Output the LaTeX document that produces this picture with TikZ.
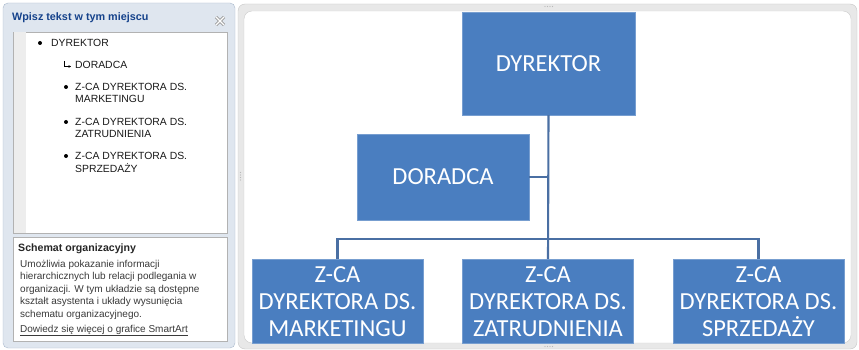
\documentclass[tikz,border=0pt]{standalone}
\usepackage{fontspec}
\usepackage{xcolor}
\setmainfont{Liberation Sans}
\newfontfamily\boxfont{Carlito}
\definecolor{boxblue}{HTML}{4A7EC0}
\definecolor{lineblue}{HTML}{4A6FA3}
\definecolor{panebg}{HTML}{DFE6EF}
\definecolor{paneedge}{HTML}{A9B8CC}
\definecolor{titleblue}{HTML}{15428B}
\definecolor{textgray}{HTML}{3A3A3A}
\usetikzlibrary{calc,arrows.meta}

\begin{document}
\begin{tikzpicture}[x=1pt,y=-1pt,
		orgbox/.style={draw=boxblue!75!white,fill=boxblue,text=white,inner sep=0pt,align=center,
			font=\boxfont\fontsize{24.5}{27}\selectfont},
		subbox/.style={orgbox,minimum width=171,minimum height=84,anchor=north},
		conn/.style={draw=lineblue,line width=2.1},
		entry/.style={anchor=base west,inner sep=0pt,text=black!90,font=\fontsize{10.4}{12}\selectfont},
		info/.style={anchor=base west,inner sep=0pt,text=textgray,font=\fontsize{10}{12}\selectfont},
		grip/.style={fill=gray!55}]
			\useasboundingbox (0,0) rectangle (859,350);
			% lewy panel tekstowy
			\draw[paneedge,fill=panebg,rounded corners=5] (3,3) rectangle (235,348);
			\node[anchor=base west,inner sep=0pt,text=titleblue,font=\bfseries\fontsize{10.8}{12}\selectfont] (title) at (12,21) {Wpisz tekst w tym miejscu};
			\draw[gray!80,line width=3] (216,17) -- (224,25) (216,25) -- (224,17);
			\draw[white,line width=1.1] (216,17) -- (224,25) (216,25) -- (224,17);
			\draw[gray!60,fill=white] (13,32) rectangle (227,233);
			\fill[black!7] (13.5,32.5) rectangle (26,232.5);
			\fill (40,43) circle (2);
			\node[entry] (e1) at (51,47) {DYREKTOR};
			\draw[line width=0.6,-{Stealth[length=2.5pt,width=2.5pt]}] (64,61) |- (71,66.5);
			\node[entry] (e2) at (75,69) {DORADCA};
			\foreach \y/\txt [count=\i] in {87/MARKETINGU,122/ZATRUDNIENIA,156/SPRZEDAŻY}{
				\fill (66,\y) circle (2);
				\node[entry] (z\i) at (75,\y+4) {Z-CA DYREKTORA DS.};
				\node[entry] (d\i) at (75,\y+16) {\txt};
			}
			% opis ukladu
			\draw[gray!60,fill=white] (13,237) rectangle (227,341);
			\node[anchor=base west,inner sep=0pt,text=black!85,font=\bfseries\fontsize{10.6}{12}\selectfont] (head) at (18,251) {Schemat organizacyjny};
			\node[info] (i1) at (20,267) {Umożliwia pokazanie informacji};
			\node[info] (i2) at (20,279.5) {hierarchicznych lub relacji podlegania w};
			\node[info] (i3) at (20,292) {organizacji. W tym układzie są dostępne};
			\node[info] (i4) at (20,304.5) {kształt asystenta i układy wysunięcia};
			\node[info] (i5) at (20,317) {schematu organizacyjnego.};
			\node[info] (link) at (20,332) {\underline{Dowiedz się więcej o grafice SmartArt}};
			% prawy panel z diagramem
			\draw[gray!45,fill=black!9,rounded corners=7] (238,4) rectangle (857,349);
			\draw[gray!40,fill=white,rounded corners=8] (244,11) rectangle (851,343);
			\foreach \x in {545,547.5,550,552.5}{
				\fill[grip] (\x,6.5) circle (0.6);
				\fill[grip] (\x,346.5) circle (0.6);
			}
			\foreach \y in {172.5,175,177.5,180}{
				\fill[grip] (240.5,\y) circle (0.6);
			}
			\node[orgbox,minimum width=173,minimum height=103] (dyr) at (548.5,63.5) {DYREKTOR};
			\node[orgbox,minimum width=172,minimum height=86] (dor) at (443,177) {DORADCA};
			\node[subbox] (mkt) at (337.5,259) {Z-CA\\DYREKTORA DS.\\MARKETINGU};
			\node[subbox] (zatr) at (548,259) {Z-CA\\DYREKTORA DS.\\ZATRUDNIENIA};
			\node[subbox] (sprz) at (758.5,259) {Z-CA\\DYREKTORA DS.\\SPRZEDAŻY};
			\coordinate (bus) at ($(zatr.north)+(0,-20)$);
			\draw[conn] (dyr.south) -- (zatr.north);
			\draw[conn] (mkt.north) |- (bus) -| (sprz.north);
			\draw[conn] (dor.east) -- (dor.east -| dyr.south);
		\end{tikzpicture}
\end{document}
